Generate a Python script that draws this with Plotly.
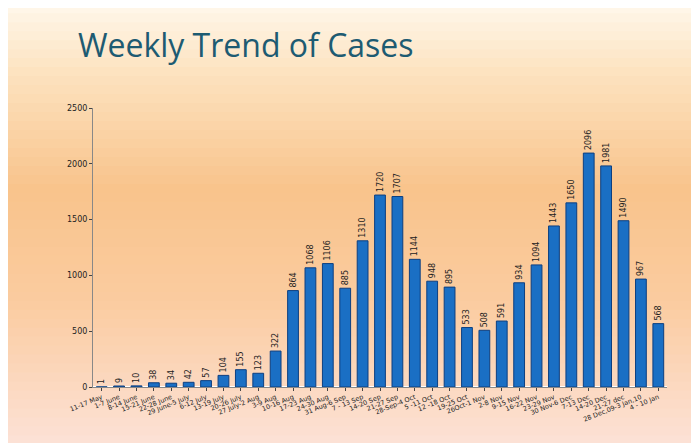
import plotly.graph_objects as go

weeks = ["11-17 May", "1-7 June", "8-14 June", "15-21 June", "22-28 June", "29 June-5 July",
         "6-12 July", "13-19 July", "20-26 July", "27 July-2 Aug", "3-9 Aug", "10-16 Aug",
         "17-23 Aug", "24-30 Aug", "31 Aug-6 Sep", "7 - 13 Sep", "14-20 Sep", "21-27 Sep",
         "28-Sep-4 Oct", "5 -11 Oct", "12 -18 Oct", "19-25 Oct", "26Oct-1 Nov", "2-8 Nov",
         "9-15 Nov", "16-22 Nov", "23-29 Nov", "30 Nov-6 Dec", "7-13 Dec", "14-20 Dec",
         "21-27 dec", "28 Dec,09-3 Jan,10", "4 - 10 Jan"]
cases = [1, 9, 10, 38, 34, 42, 57, 104, 155, 123, 322, 864, 1068, 1106, 885, 1310, 1720,
         1707, 1144, 948, 895, 533, 508, 591, 934, 1094, 1443, 1650, 2096, 1981, 1490, 967, 568]

fig = go.Figure(go.Bar(
    x=weeks, y=cases, text=cases, textposition="outside", textangle=-90,
    constraintext="none",
    textfont=dict(size=8, color="#222", family="DejaVu Sans"),
    marker=dict(color="#1a6fc4", line=dict(color="#0d3f80", width=1)),
    width=0.62, cliponaxis=False,
))

# background gradient (bands), in paper coords spanning whole page
stops = [(1.0, (255, 246, 232)), (0.85, (253, 226, 190)), (0.6, (249, 196, 140)),
         (0.35, (251, 204, 160)), (0.0, (253, 228, 220))]
n = 50
ytop, ybot = 1.37, -0.24
shapes = []
for i in range(n):
    t = 1 - i / n
    for (a, ca), (b, cb) in zip(stops, stops[1:]):
        if b <= t <= a:
            f = (a - t) / (a - b)
            c = tuple(int(ca[k] + (cb[k] - ca[k]) * f) for k in range(3))
            break
    y1 = ybot + (ytop - ybot) * t
    y0 = ybot + (ytop - ybot) * (t - 1 / n)
    shapes.append(dict(type="rect", xref="paper", yref="paper", x0=-0.2, x1=1.2,
                       y0=y0 - 0.002, y1=y1 + 0.002, fillcolor="rgb(%d,%d,%d)" % c,
                       line=dict(width=0), layer="below"))

fig.update_layout(
    width=699, height=443, shapes=shapes,
    paper_bgcolor="#fde4dc", plot_bgcolor="rgba(0,0,0,0)",
    margin=dict(l=85, r=40, t=100, b=64),
    title=dict(text="Weekly Trend of Cases", x=0.1, y=0.94, xanchor="left",
               font=dict(size=32, color="#1d5b72", family="Open Sans")),
    bargap=0.3, showlegend=False,
    xaxis=dict(tickangle=-22, tickfont=dict(size=6.5, color="#222", family="DejaVu Sans"),
               showline=True, linecolor="#888", ticks="outside", ticklen=3),
    yaxis=dict(range=[0, 2500], dtick=500, showgrid=False, showline=True, linecolor="#888",
               ticks="outside", ticklen=3,
               tickfont=dict(size=8, color="#222", family="DejaVu Sans")),
)
fig.write_html("out.html")
